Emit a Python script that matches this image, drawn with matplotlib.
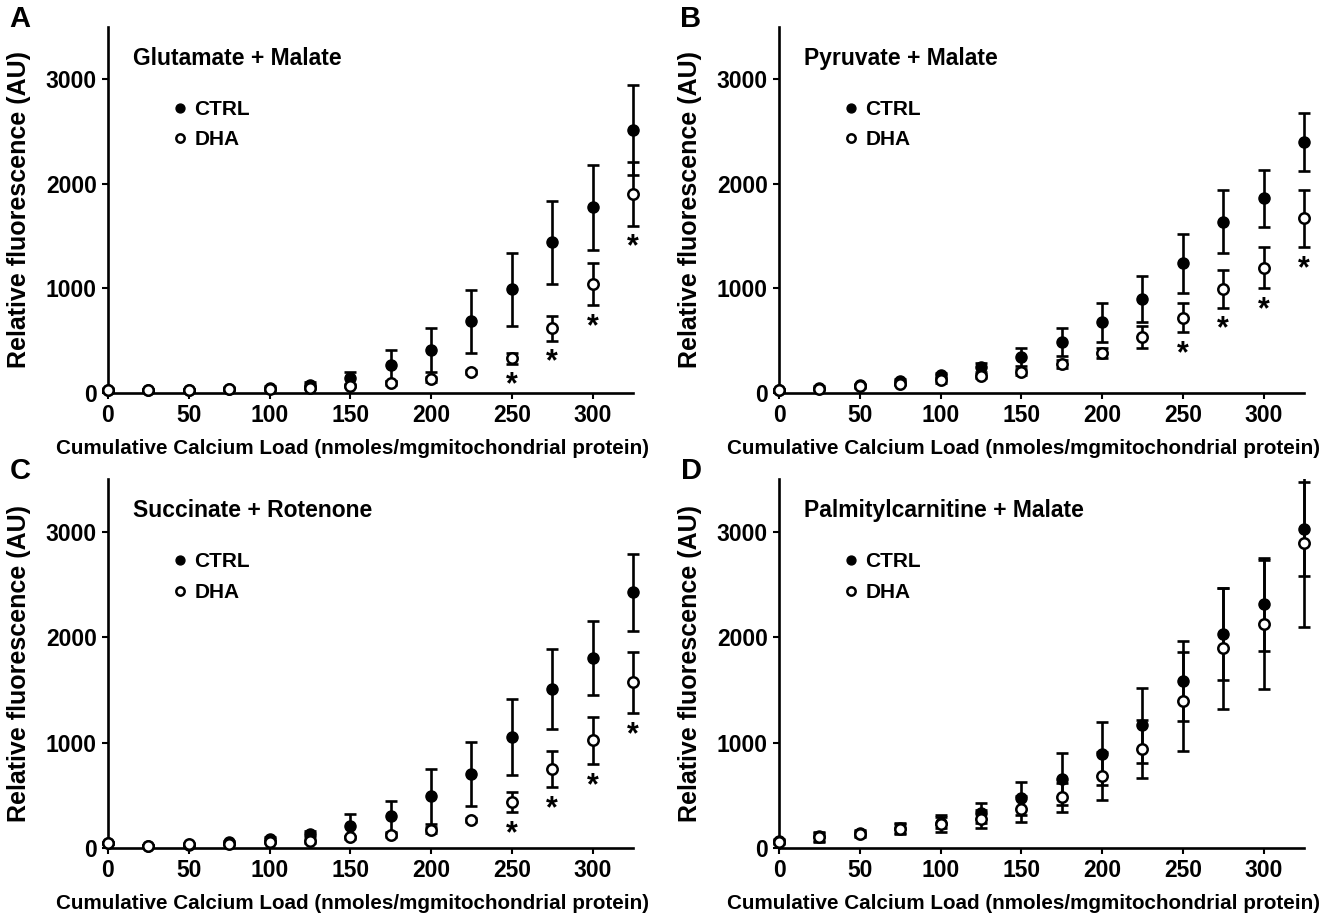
import numpy as np
import matplotlib
matplotlib.use('Agg')
import matplotlib.pyplot as plt
from matplotlib.patches import Rectangle

# calcium load steps (nmoles/mg mitochondrial protein)
load = [0, 25, 50, 75, 100, 125, 150, 175, 200, 225, 250, 275, 300, 325]

# A: glutamate + malate
a_ctrl = [30, 30, 30, 40, 50, 80, 140, 265, 415, 685, 990, 1440, 1775, 2515]
a_ctrl_se = [15, 10, 10, 15, 20, 25, 65, 150, 210, 300, 350, 400, 410, 435]
a_dha = [30, 25, 25, 35, 40, 50, 70, 95, 130, 200, 330, 620, 1040, 1905]
a_dha_se = [10, 10, 10, 10, 10, 15, 15, 20, 25, 20, 50, 120, 200, 305]
a_sig = [250, 275, 300, 325]

# B: pyruvate + malate
b_ctrl = [30, 50, 75, 110, 170, 245, 345, 490, 675, 900, 1240, 1640, 1860, 2400]
b_ctrl_se = [10, 15, 15, 20, 25, 40, 90, 135, 185, 220, 280, 300, 275, 280]
b_dha = [30, 40, 65, 90, 120, 160, 200, 280, 380, 540, 720, 995, 1200, 1670]
b_dha_se = [10, 10, 15, 15, 20, 20, 30, 40, 50, 105, 140, 180, 195, 275]
b_sig = [250, 275, 300, 325]

# C: succinate + rotenone
c_ctrl = [50, 20, 30, 55, 85, 130, 210, 300, 490, 700, 1055, 1505, 1800, 2425]
c_ctrl_se = [10, 10, 10, 15, 20, 30, 110, 150, 260, 305, 360, 380, 350, 365]
c_dha = [50, 20, 35, 40, 55, 65, 100, 120, 170, 265, 440, 750, 1020, 1570]
c_dha_se = [10, 10, 10, 10, 10, 15, 15, 20, 25, 20, 95, 170, 220, 290]
c_sig = [250, 275, 300, 325]

# D: palmitylcarnitine + malate
d_ctrl = [70, 110, 140, 190, 240, 335, 470, 655, 895, 1165, 1580, 2030, 2310, 3025]
d_ctrl_se = [20, 40, 30, 50, 50, 95, 160, 245, 300, 355, 380, 440, 440, 445]
d_dha = [60, 100, 130, 180, 230, 275, 370, 480, 685, 940, 1390, 1895, 2120, 2890]
d_dha_se = [20, 40, 30, 50, 80, 90, 120, 140, 230, 277, 470, 575, 610, 790]
d_sig = []

panels = [
    ('A', 'Glutamate + Malate', a_ctrl, a_ctrl_se, a_dha, a_dha_se, a_sig),
    ('B', 'Pyruvate + Malate', b_ctrl, b_ctrl_se, b_dha, b_dha_se, b_sig),
    ('C', 'Succinate + Rotenone', c_ctrl, c_ctrl_se, c_dha, c_dha_se, c_sig),
    ('D', 'Palmitylcarnitine + Malate', d_ctrl, d_ctrl_se, d_dha, d_dha_se, d_sig),
]

fam = ['Liberation Sans', 'DejaVu Sans']

W, H = 1342, 913
fig = plt.figure(figsize=(W / 100, H / 100), dpi=100)

# axes boxes in pixels: left, y of x-axis, y of top
boxes = [(108, 393, 27), (779, 393, 27), (108, 848, 479), (779, 848, 479)]
ax_w = 525


def clip_to(artists, rect):
    for a in artists:
        a.set_clip_path(rect)


for (letter, title, ctrl, ctrl_se, dha, dha_se, sig), (px, py0, py1) in zip(panels, boxes):
    ax = fig.add_axes([px / W, (H - py0) / H, ax_w / W, (py0 - py1) / H])
    x = np.array(load)
    # clip bars at the top of the plot area only, not at the x ends
    rect = Rectangle((-0.05, -0.1), 1.1, 1.1, transform=ax.transAxes, fill=False)

    eb = ax.errorbar(x, ctrl, yerr=ctrl_se, fmt='none', ecolor='black', elinewidth=1.9,
                     capsize=4.5, capthick=1.9, zorder=2)
    clip_to(eb.lines[1] + eb.lines[2], rect)
    ax.plot(x, ctrl, 'o', color='black', markersize=8, label='CTRL', zorder=3, clip_on=False)
    eb = ax.errorbar(x, dha, yerr=dha_se, fmt='none', ecolor='black', elinewidth=1.9,
                     capsize=4.5, capthick=1.9, zorder=4)
    clip_to(eb.lines[1] + eb.lines[2], rect)
    ax.plot(x, dha, 'o', color='black', markerfacecolor='white', markeredgewidth=1.8,
            markersize=7.5, label='DHA', zorder=5, clip_on=False)

    for s in sig:
        i = load.index(s)
        ax.text(s, dha[i] - dha_se[i] - 210, '*', ha='center', va='center',
                fontsize=22, fontweight='bold', family=fam)

    ax.set_xlim(0, 325)
    ax.set_ylim(0, 3500)
    ax.set_xticks(range(0, 301, 50))
    ax.set_yticks([0, 1000, 2000, 3000])
    for sp in ['top', 'right']:
        ax.spines[sp].set_visible(False)
    for sp in ['left', 'bottom']:
        ax.spines[sp].set_linewidth(1.9)
    ax.tick_params(direction='out', length=4, width=1.5, pad=4)
    for lab in ax.get_xticklabels() + ax.get_yticklabels():
        lab.set_family(fam)
        lab.set_fontweight('bold')
        lab.set_fontsize(16.5)

    ax.set_xlabel('Cumulative Calcium Load (nmoles/mgmitochondrial protein)',
                  fontsize=14.9, fontweight='bold', family=fam)
    ax.xaxis.set_label_coords(0.465, -0.126)
    ax.set_ylabel('Relative fluorescence (AU)', fontsize=18, fontweight='bold',
                  family=fam)
    ax.yaxis.set_label_coords(-0.147, 0.5)

    ax.text(0.048, 0.915, title, transform=ax.transAxes, ha='left', va='center',
            fontsize=16.5, fontweight='bold', family=fam)
    ax.legend(loc='upper left', bbox_to_anchor=(0.089, 0.852), frameon=False,
              handlelength=0.6, handletextpad=0.4, labelspacing=0.55, markerscale=0.8,
              prop={'family': fam, 'weight': 'bold', 'size': 15})

    fig.text((px - 88) / W, (H - (py1 - 8)) / H, letter, fontsize=21, fontweight='bold',
             family=fam, ha='center', va='center')

fig.savefig('out.png', dpi=100)
